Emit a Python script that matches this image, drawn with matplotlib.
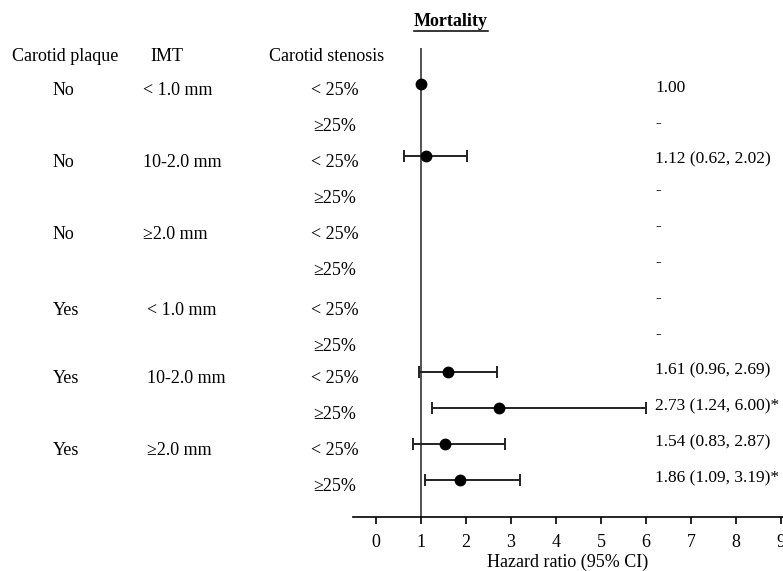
import numpy as np
import matplotlib
matplotlib.use("Agg")
import matplotlib.pyplot as plt
from matplotlib.transforms import blended_transform_factory
from matplotlib.lines import Line2D

plt.rcParams['font.family'] = ['Liberation Serif', 'DejaVu Serif']
plt.rcParams['font.size'] = 13

# rows of the forest plot, top to bottom
plaque = ['No', '', 'No', '', 'No', '', 'Yes', '', 'Yes', '', 'Yes', '']
imt = ['< 1.0 mm', '', '10-2.0 mm', '', '\u22652.0 mm', '',
       '< 1.0 mm', '', '10-2.0 mm', '', '\u22652.0 mm', '']
stenosis = ['< 25%', '\u226525%'] * 6
hr = [1.00, np.nan, 1.12, np.nan, np.nan, np.nan, np.nan, np.nan, 1.61, 2.73, 1.54, 1.86]
ci_low = [np.nan, np.nan, 0.62, np.nan, np.nan, np.nan, np.nan, np.nan, 0.96, 1.24, 0.83, 1.09]
ci_high = [np.nan, np.nan, 2.02, np.nan, np.nan, np.nan, np.nan, np.nan, 2.69, 6.00, 2.87, 3.19]
signif = [False, False, False, False, False, False, False, False, False, True, False, True]
x_ticks = [0, 1, 2, 3, 4, 5, 6, 7, 8, 9]

W, H = 783, 571
fig = plt.figure(figsize=(W / 100, H / 100), dpi=100)
fig.patch.set_facecolor('white')

# plot panel: x axis from -0.51 to 9.04, rows spaced evenly
ax = fig.add_axes([353 / W, (H - 517) / H, (W - 353) / W, (517 - 48) / H])
ax.set_xlim(-0.51, 9.04)
ax.set_ylim(12.03, -1)
for s in ['top', 'left', 'right']:
    ax.spines[s].set_visible(False)
ax.spines['bottom'].set_linewidth(1.2)
ax.set_yticks([])
ax.set_xticks(x_ticks)
ax.tick_params(axis='x', direction='out', length=5, width=1.2, pad=7, labelsize=13)
ax.set_xlabel('Hazard ratio (95% CI)', fontsize=13, labelpad=2)

ax.axvline(1, color='#444444', lw=1.3, zorder=1)

rows = np.arange(len(hr))
hr_a = np.array(hr)
lo_a = np.array(ci_low)
hi_a = np.array(ci_high)
has_ci = ~np.isnan(lo_a)
ax.errorbar(hr_a[has_ci], rows[has_ci],
            xerr=[hr_a[has_ci] - lo_a[has_ci], hi_a[has_ci] - hr_a[has_ci]],
            fmt='none', ecolor='#222222', elinewidth=1.4, capsize=4, capthick=1.4, zorder=2)
has_hr = ~np.isnan(hr_a)
ax.plot(hr_a[has_hr], rows[has_hr], 'o', color='black', markersize=7.5, zorder=3)

# result text on the right
for r in rows:
    if np.isnan(hr[r]):
        txt = '-'
    elif np.isnan(ci_low[r]):
        txt = f'{hr[r]:.2f}'
    else:
        txt = f'{hr[r]:.2f} ({ci_low[r]:.2f}, {ci_high[r]:.2f})'
        if signif[r]:
            txt += '*'
    dy = 0.1 if r < 3 else -0.05
    ax.text(6.2, r + dy, txt, ha='left', va='center', fontsize=12.5, clip_on=False)

# left-hand descriptor columns
tr = blended_transform_factory(fig.transFigure, ax.transData)
ax.text(65 / W, -0.75, 'Carotid plaque', transform=tr, ha='center', va='center')
ax.text(167 / W, -0.75, 'IMT', transform=tr, ha='center', va='center')
ax.text(327 / W, -0.75, 'Carotid stenosis', transform=tr, ha='center', va='center')
for r in rows:
    dy = 0.3 if r in (6, 7) else 0.17
    is_yes = r >= 6
    if plaque[r]:
        ax.text((66 if is_yes else 63) / W, r + dy, plaque[r], transform=tr,
                ha='center', va='center')
    if imt[r]:
        ax.text((147 if is_yes else 143) / W, r + dy, imt[r], transform=tr,
                ha='left', va='center')
    ax.text(335 / W, r + dy, stenosis[r], transform=tr, ha='center', va='center')

# underlined bold title
fig.text(451 / W, 1 - 21 / H, 'Mortality', ha='center', va='center',
         fontsize=13, fontweight='bold')
fig.add_artist(Line2D([414 / W, 488 / W], [1 - 31 / H, 1 - 31 / H],
                      transform=fig.transFigure, color='black', lw=1.1))

fig.savefig('out.png', dpi=100)
